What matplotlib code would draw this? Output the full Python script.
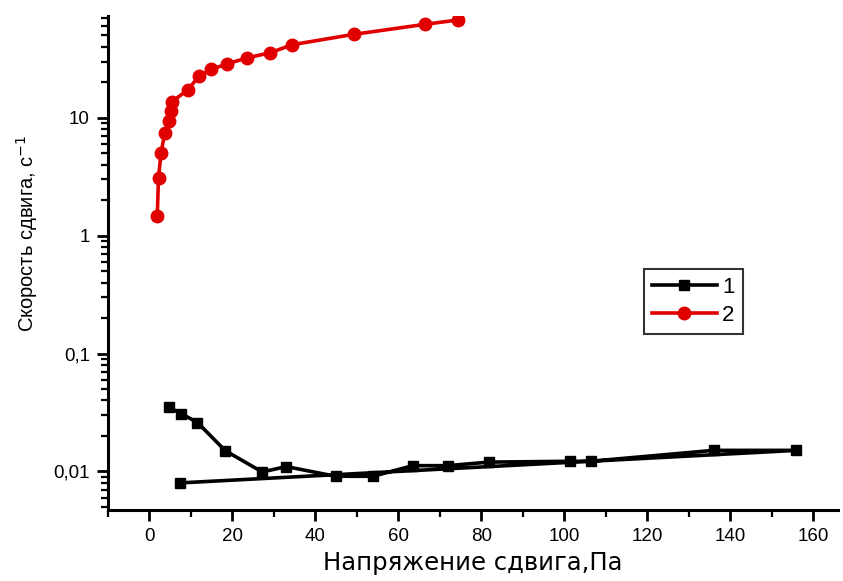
import matplotlib
matplotlib.use('Agg')
import matplotlib.pyplot as plt
from matplotlib.ticker import FixedLocator, LogLocator, FuncFormatter, MultipleLocator

plt.rcParams['font.family'] = ['Liberation Sans', 'DejaVu Sans']

# Series 1 (black squares): forward branch, then return point
x1 = [4.7, 7.6, 11.6, 18.3, 27.2, 33.0, 44.9, 53.9, 63.5, 71.9, 81.8,
      101.3, 106.4, 136.0, 156.0, 7.5]
y1 = [0.035, 0.031, 0.026, 0.015, 0.0099, 0.011, 0.0091, 0.0091, 0.0112,
      0.0112, 0.012, 0.0122, 0.0122, 0.0151, 0.0151, 0.008]

# Series 2 (red circles)
x2 = [1.9, 2.2, 2.8, 3.7, 4.7, 5.2, 5.5, 9.3, 11.9, 14.9, 18.8, 23.6,
      29.1, 34.5, 49.3, 66.4, 74.5]
y2 = [1.48, 3.1, 5.0, 7.4, 9.4, 11.5, 13.7, 17.3, 22.4, 25.7, 28.7, 32.2,
      35.6, 41.7, 51.0, 62.0, 67.6]

labels = ['1', '2']

fig = plt.figure(figsize=(8.43, 5.81), dpi=100)
ax = fig.add_axes([0.128, 0.122, 0.866, 0.8505])

ax.plot(x1, y1, color='black', lw=2.6, marker='s', ms=7.2, label=labels[0])
ax.plot(x2, y2, color='#e00000', lw=2.6, marker='o', ms=9, label=labels[1])

ax.set_yscale('log')
ax.set_xlim(-10, 166)
ax.set_ylim(0.0047, 73)

for s in ['top', 'right']:
    ax.spines[s].set_visible(False)
for s in ['left', 'bottom']:
    ax.spines[s].set_linewidth(2.2)

ax.xaxis.set_major_locator(MultipleLocator(20))
ax.xaxis.set_minor_locator(MultipleLocator(10))
ax.yaxis.set_major_locator(FixedLocator([0.01, 0.1, 1, 10]))
ax.yaxis.set_minor_locator(LogLocator(base=10, subs=range(2, 10), numticks=20))
ax.yaxis.set_major_formatter(FuncFormatter(lambda v, p: ('%g' % v).replace('.', ',')))
ax.yaxis.set_minor_formatter(FuncFormatter(lambda v, p: ''))

ax.tick_params(which='major', direction='out', length=8, width=2, labelsize=13.5, pad=5)
ax.tick_params(which='minor', direction='out', length=5, width=1.6)

ax.set_xlabel('Напряжение сдвига,Па', fontsize=17.5, family=['DejaVu Sans'], va='center')
ax.xaxis.set_label_coords(0.5, -0.107)
ax.set_ylabel('Скорость сдвига, с$^{-1}$', fontsize=14.5)
ax.yaxis.set_label_coords(-0.093, 0.56)

leg = ax.legend(loc='upper left', bbox_to_anchor=(0.735, 0.487), fontsize=16,
                frameon=True, fancybox=False, edgecolor='black',
                handlelength=2.9, handletextpad=0.25, borderpad=0.35,
                labelspacing=0.3, borderaxespad=0)
leg.get_frame().set_linewidth(1.5)

fig.savefig('out.png', dpi=100)
